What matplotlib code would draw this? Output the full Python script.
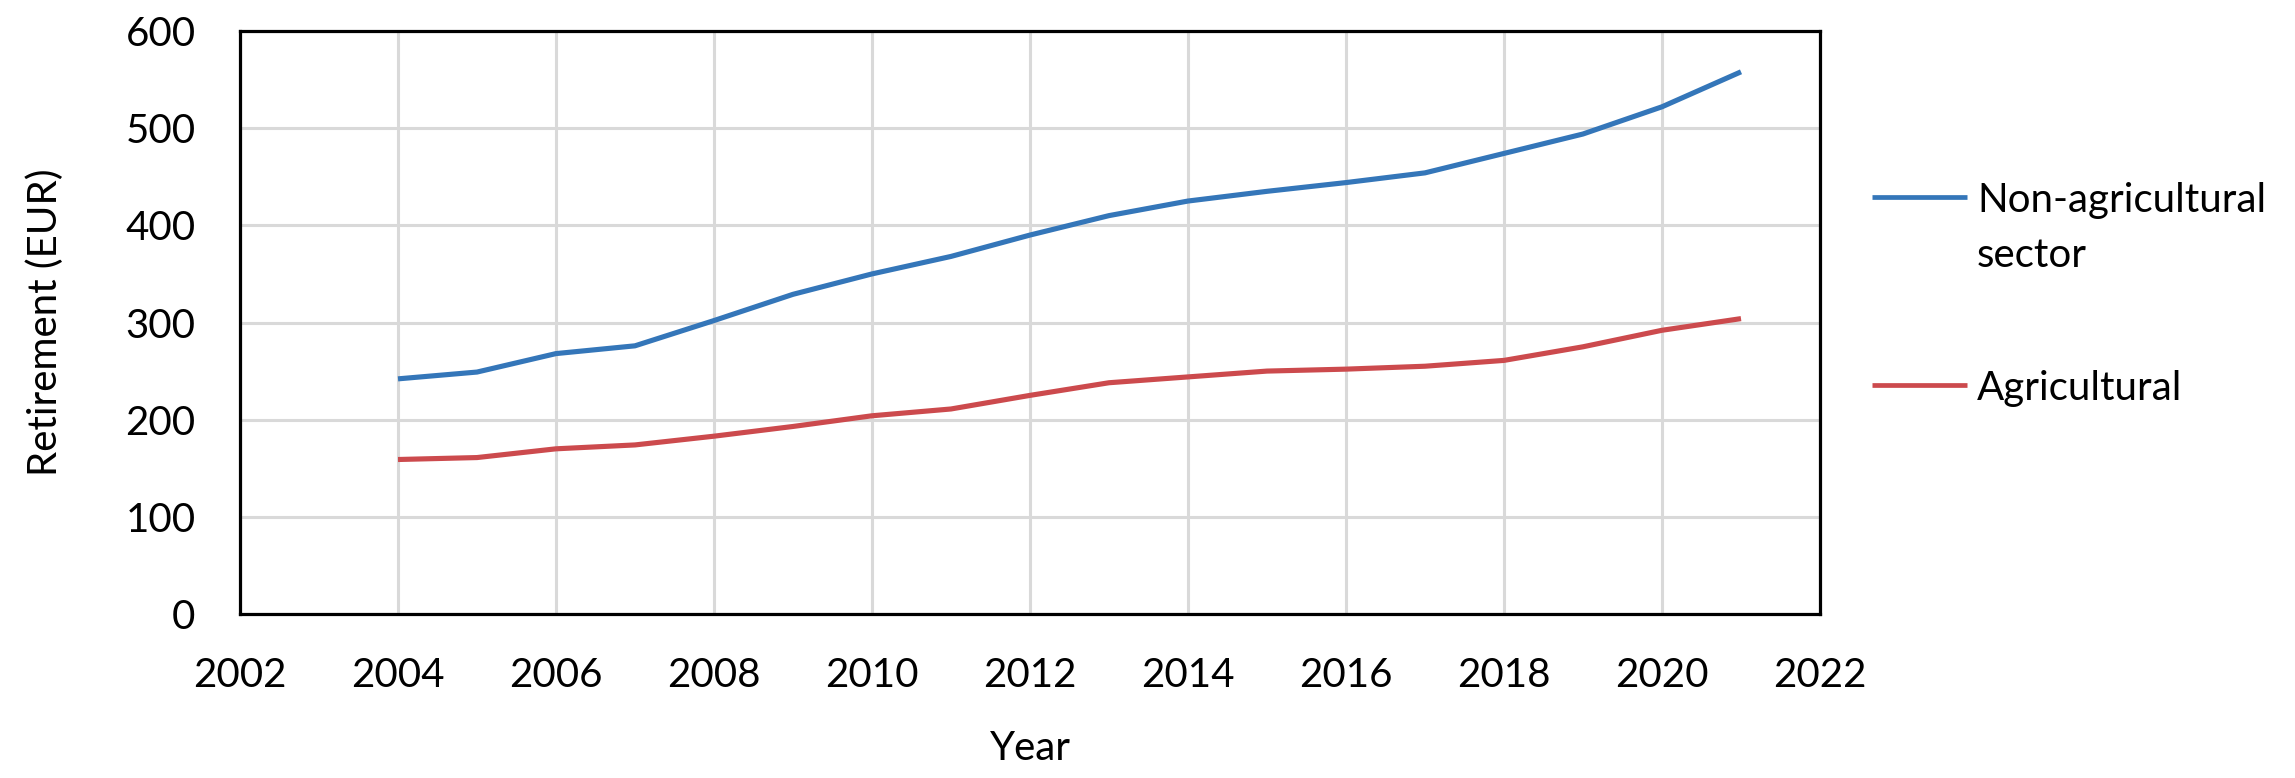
import numpy as np
import matplotlib
matplotlib.use("Agg")
import matplotlib.pyplot as plt
from matplotlib.lines import Line2D

plt.rcParams['font.family'] = ['Lato', 'DejaVu Sans']

years = [2004, 2005, 2006, 2007, 2008, 2009, 2010, 2011, 2012,
         2013, 2014, 2015, 2016, 2017, 2018, 2019, 2020, 2021]
non_agri = [242, 249, 268, 276, 302, 329, 350, 368, 390,
            410, 425, 435, 444, 454, 474, 494, 522, 558]
agri = [159, 161, 170, 174, 183, 193, 204, 211, 225,
        238, 244, 250, 252, 255, 261, 275, 292, 304]
labels = ["Non-agricultural\nsector", "Agricultural"]
colors = ['#3476b9', '#cc4a4d']

W, H = 2295, 778
fs = 29

fig = plt.figure(figsize=(W / 100, H / 100), dpi=100)
ax = fig.add_axes([240 / W, 1 - 614 / H, 1580 / W, 583 / H])

ax.plot(years, non_agri, color=colors[0], lw=3.7, solid_capstyle='butt')
ax.plot(years, agri, color=colors[1], lw=3.7, solid_capstyle='butt')

ax.set_xlim(2002, 2022)
ax.set_ylim(0, 600)
ax.set_xticks(np.arange(2002, 2023, 2))
ax.set_yticks(np.arange(0, 601, 100))
ax.tick_params(axis='both', length=0, labelsize=fs)
ax.tick_params(axis='x', pad=31)
ax.tick_params(axis='y', pad=32)

ax.grid(True, color='#d9d9d9', lw=2.2)
ax.set_axisbelow(True)
for s in ax.spines.values():
    s.set_linewidth(2.3)
    s.set_color('black')

ax.set_xlabel('Year', fontsize=fs, labelpad=26)
ax.set_ylabel('Retirement (EUR)', fontsize=fs, labelpad=44)

# legend drawn by hand: Excel puts the key next to the first line of a wrapped label
key_y = [197, 385]
text_base = [212, 400]
for lab, col, ky, tb in zip(labels, colors, key_y, text_base):
    fig.add_artist(Line2D([1872 / W, 1967 / W], [1 - ky / H, 1 - ky / H],
                          color=col, lw=3.4, solid_capstyle='butt'))
    lines = lab.split('\n')
    for i, ln in enumerate(lines):
        fig.text(1977 / W, 1 - (tb + 55 * i) / H, ln, fontsize=fs,
                 ha='left', va='baseline')

fig.savefig('out.png', dpi=100)
